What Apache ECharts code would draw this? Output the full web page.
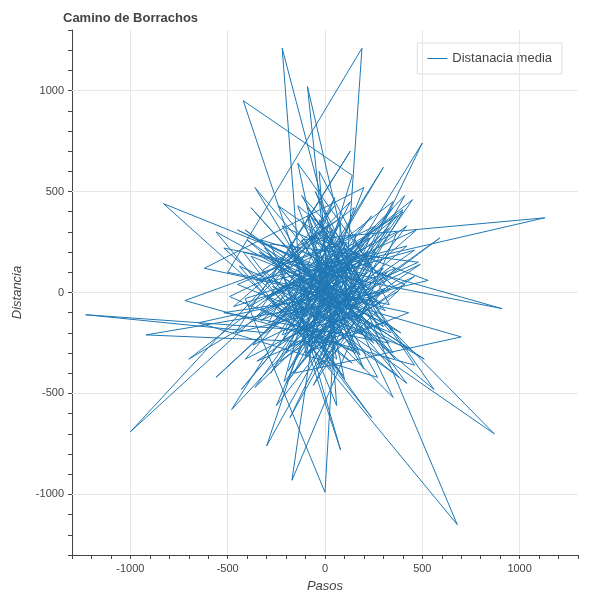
<!DOCTYPE html>
<html>
<head>
<meta charset="utf-8">
<script src="https://cdn.jsdelivr.net/npm/echarts@6/dist/echarts.min.js"></script>
<style>html,body{margin:0;padding:0;background:#fff}#chart{width:600px;height:600px}</style>
</head>
<body>
<div id="chart"></div>
<script>
//datos del camino (leidos a ojo)
var pasosX = [0,120,-60,210,-180,40,-250,300,-90,150,-350,260,-40,410,-220,90,-1230,-300,180,-120,350,-60,20,-410,240,-150,480,-280,60,-30,330,-500,190,100,-200,420,-80,-650,270,-120,1130,-40,160,-330,50,-190,390,-560,680,220,-100,140,-420,-60,300,-250,110,-720,460,-20,-1000,-150,250,-380,80,590,-200,30,-300,410,-120,870,-50,180,-460,130,-270,350,-90,60,-830,200,-180,500,-70,240,-560,20,910,-330,100,-140,330,-220,80,0,-410,280,-60,150,-220,-100,430,-620,200,-40,-170,370,-300,60,-920,250,-90,560,-240,80,-130,300,-480,140,-90,40,-350,460,-200,700,-160,120,-700,350,-30,240,-420,60,-250,530,-80,200,-360,100,-520,330,-150,0,
  -310,180,-40,270,-190,420,-260,90,-380,310,-120,220,-450,160,-20,360,-290,50,-170,440,-340,130,-80,290,-230,510,-400,70,-140,380,-60,230,-470,20,-210,320,-110,470,-300,140,-520,260,-10,400,-250,110,-360,200,-70,340,-440,30,-180,280,-90,450,-330,170,-30,240,-270,380,-150,60,-410,300,-50,190,-230,490,-370,100,-120,350,-280,10,-200,260,-490,150,-60,420,-320,80,-160,310,-40,230,-390,130,-220,460,-100,40,-300,370,-140,200,-430,90,-20,330,-260,160,-80,400,-350,220,-190,70,-450,290,-110,180,-240,360,-30,120];
var distY = [0,-80,150,90,-40,310,120,-150,-260,420,60,200,-380,40,330,-200,-110,-200,160,480,-300,20,-120,-330,380,-120,150,240,-560,600,-60,100,1210,-50,-450,330,-30,-150,-420,260,370,110,-300,-80,430,180,-200,300,-1150,-100,-180,580,950,-90,120,-560,250,-40,-360,330,-690,60,-250,420,-80,270,-300,190,-760,480,-40,-700,200,-50,-200,700,80,-520,380,-330,440,40,-620,740,-150,300,-420,90,-80,260,-430,640,10,-210,350,-990,-30,180,-460,-150,1210,-300,-100,120,520,-70,-930,300,-20,-250,-210,-20,420,-480,160,-780,-80,620,-580,60,1020,-180,-340,210,30,-220,-400,140,-330,450,-260,-620,200,80,-120,60,280,-380,520,-10,-100,-250,140,40,
  220,-310,160,-40,-270,230,60,-410,180,-90,350,-220,40,290,-360,120,-150,470,-60,-280,200,-20,390,-190,80,-330,260,-120,430,10,-250,150,-70,340,-440,100,-180,310,-30,-350,220,70,-260,400,-110,170,-470,50,280,-200,130,-380,240,-10,-300,460,-140,90,360,-230,30,-420,190,-80,310,-170,500,-50,-340,140,-260,250,-100,420,-400,60,-190,330,-20,-290,180,-450,110,370,-130,20,-360,270,-70,450,-240,80,-310,160,-30,380,-200,240,-480,120,-90,320,-160,40,-270,410,-120,200,-390,70,310,-50,-220,150,430,-330,90,-10];

var puntos = [];
for (var i = 0; i < pasosX.length; i++) puntos.push([pasosX[i], distY[i]]);

var chart = echarts.init(document.getElementById('chart'));
function etiqueta(v) { return v % 500 === 0 ? String(v) : ''; }
var option = {
    title: {text: 'Camino de Borrachos', left: 58, top: 7, textStyle: {fontSize: 13, fontWeight: 'bold', color: '#444'}},
    legend: {
        data: ['Distanacia media'], right: 38, top: 43, orient: 'vertical',
        borderColor: '#ddd', borderWidth: 1, padding: [9, 10],
        itemWidth: 20, itemHeight: 1, textStyle: {fontSize: 13, color: '#444'}, icon: 'rect'
    },
    grid: {left: 72, right: 22, top: 30, bottom: 45},
    xAxis: {type: 'value', min: -1300, max: 1300, interval: 100, name: 'Pasos', nameGap: 25,
        nameLocation: 'middle', nameTextStyle: {fontStyle: 'italic', fontSize: 13, color: '#444'},
        axisLine: {onZero: false, lineStyle: {color: '#444'}},
        axisTick: {show: true, length: 4, lineStyle: {color: '#444'}},
        axisLabel: {color: '#444', fontSize: 11, formatter: etiqueta, interval: 0, showMinLabel: true, showMaxLabel: true},
        splitLine: {show: false}},
    yAxis: {type: 'value', min: -1300, max: 1300, interval: 100, name: 'Distancia', nameGap: 48,
        nameLocation: 'middle', nameTextStyle: {fontStyle: 'italic', fontSize: 13, color: '#444'},
        axisLine: {show: true, onZero: false, lineStyle: {color: '#444'}},
        axisTick: {show: true, length: 4, lineStyle: {color: '#444'}},
        axisLabel: {color: '#444', fontSize: 11, formatter: etiqueta, interval: 0},
        splitLine: {show: false}},
    series: [{
        name: 'Distanacia media', type: 'line', data: puntos, showSymbol: false, z: 5,
        lineStyle: {color: '#1f77b4', width: 1}, itemStyle: {color: '#1f77b4'}, animation: false
    }, {
        // lineas de rejilla en los valores de las etiquetas
        type: 'line', data: [], silent: true, z: 1,
        markLine: {symbol: 'none', silent: true, animation: false, label: {show: false}, lineStyle: {color: '#e6e6e6', type: 'solid', width: 1},
            data: [{xAxis: -1000}, {xAxis: -500}, {xAxis: 0}, {xAxis: 500}, {xAxis: 1000},
                   {yAxis: -1000}, {yAxis: -500}, {yAxis: 0}, {yAxis: 500}, {yAxis: 1000}]}
    }]
};
chart.setOption(option);
</script>
</body>
</html>
